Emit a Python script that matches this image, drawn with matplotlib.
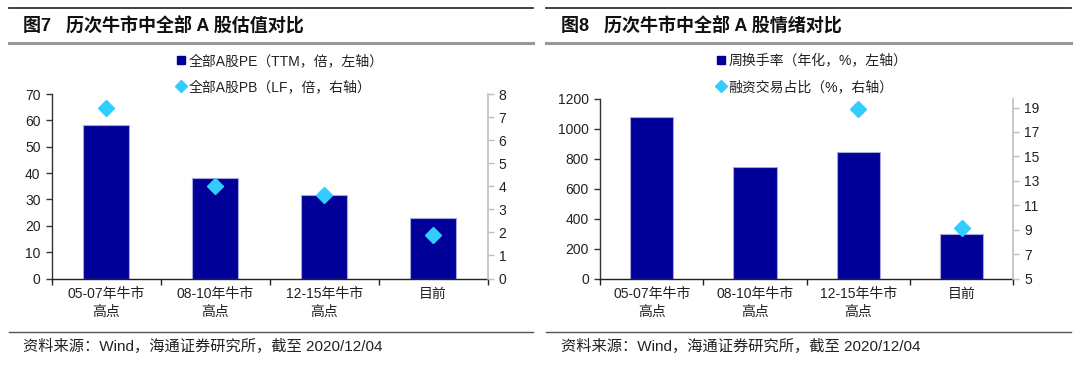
import matplotlib
matplotlib.use("Agg")
import matplotlib.pyplot as plt
from matplotlib.lines import Line2D
import numpy as np

plt.rcParams['font.family'] = ['Liberation Sans', 'Noto Sans CJK SC', 'DejaVu Sans']

categories = ["05-07年牛市\n高点", "08-10年牛市\n高点", "12-15年牛市\n高点", "目前"]
pe_ttm = [58.1, 38.0, 31.8, 23.1]
pb_lf = [7.4, 4.0, 3.6, 1.9]
turnover = [1080, 747, 847, 300]
margin_share = [np.nan, np.nan, 18.9, 9.1]

title_left = "图7   历次牛市中全部 A 股估值对比"
title_right = "图8   历次牛市中全部 A 股情绪对比"
legend_left = ["全部A股PE（TTM，倍，左轴）", "全部A股PB（LF，倍，右轴）"]
legend_right = ["周换手率（年化，%，左轴）", "融资交易占比（%，右轴）"]
source = "资料来源：Wind，海通证券研究所，截至 2020/12/04"

BAR = "#000099"
DIA = "#33CCFF"
TXT = "#222222"

W, H = 1080, 365
fig = plt.figure(figsize=(W / 100, H / 100), dpi=100)


def fx(px):
    return px / W


def fy(py):
    return 1 - py / H


def panel(x0, x1, ytop, ybot, bars, pts, ylim1, yticks1, ylim2, yticks2,
          title, legend_labels, lx0, lx1, tx, legx):
    # decorative lines and texts
    fig.add_artist(Line2D([fx(lx0), fx(lx1)], [fy(7.7), fy(7.7)], color="#333333", lw=1.3))
    fig.add_artist(Line2D([fx(lx0), fx(lx1)], [fy(43), fy(43)], color="#999999", lw=2.2))
    fig.add_artist(Line2D([fx(lx0), fx(lx1)], [fy(332.3), fy(332.3)], color="#555555", lw=1.0))
    fig.text(fx(tx), fy(25.5), title, fontsize=13, fontweight="bold", color="#111111",
             va="center", ha="left")
    fig.text(fx(tx), fy(346), source, fontsize=11, color=TXT, va="center", ha="left")

    ax = fig.add_axes([fx(x0), fy(ybot), fx(x1) - fx(x0), fy(ytop) - fy(ybot)])
    x = np.arange(len(categories))
    ax.bar(x, bars, width=0.42, color=BAR, edgecolor="#A8A8D8", linewidth=0.8, zorder=2)
    ax.set_xlim(-0.5, len(categories) - 0.5)
    ax.set_ylim(*ylim1)
    ax.set_yticks(yticks1)
    ax.set_xticks(x)
    ax.set_xticklabels(categories, fontsize=10, color=TXT, linespacing=1.35)
    ax.set_xticks(np.arange(-0.5, len(categories), 1.0), minor=True)
    ax.tick_params(axis="x", which="major", length=0, pad=6)
    ax.tick_params(axis="x", which="minor", length=4, width=1.0, color="#222222", direction="out")
    ax.tick_params(axis="y", length=4, width=1.0, color="#333333", labelsize=10, labelcolor=TXT, pad=4)
    for s in ["top", "right"]:
        ax.spines[s].set_visible(False)
    ax.spines["left"].set_color("#333333")
    ax.spines["bottom"].set_color("#222222")
    ax.spines["left"].set_linewidth(1.0)
    ax.spines["bottom"].set_linewidth(1.0)

    ax2 = ax.twinx()
    ax2.plot(x, pts, linestyle="none", marker="D", markersize=8, color=DIA,
             markeredgecolor=DIA, zorder=3)
    ax2.set_ylim(*ylim2)
    ax2.set_yticks(yticks2)
    ax2.tick_params(axis="y", length=4, width=1.0, color="#BFBFBF", labelsize=10, labelcolor=TXT, pad=4)
    for s in ["top", "left", "bottom"]:
        ax2.spines[s].set_visible(False)
    ax2.spines["right"].set_color("#BFBFBF")
    ax2.spines["right"].set_linewidth(1.2)

    handles = [
        Line2D([], [], linestyle="none", marker="s", markersize=6, color=BAR),
        Line2D([], [], linestyle="none", marker="D", markersize=6, color=DIA),
    ]
    fig.legend(handles, legend_labels, loc="upper left",
               bbox_to_anchor=(fx(legx), fy(54)), frameon=False, fontsize=10,
               handlelength=0.7, handletextpad=0.2, labelspacing=0.85,
               borderaxespad=0, borderpad=0, labelcolor=TXT)
    return ax, ax2


panel(51.7, 487.5, 94, 278.5, pe_ttm, pb_lf, (0, 70), range(0, 71, 10),
      (0, 8), range(0, 9, 1), title_left, legend_left, 8.6, 533, 22.7, 176)
panel(600, 1013.3, 99, 278.5, turnover, margin_share, (0, 1200), range(0, 1201, 200),
      (5, 19.7), range(5, 20, 2), title_right, legend_right, 546, 1071, 561, 716)

fig.savefig("out.png", dpi=100)
